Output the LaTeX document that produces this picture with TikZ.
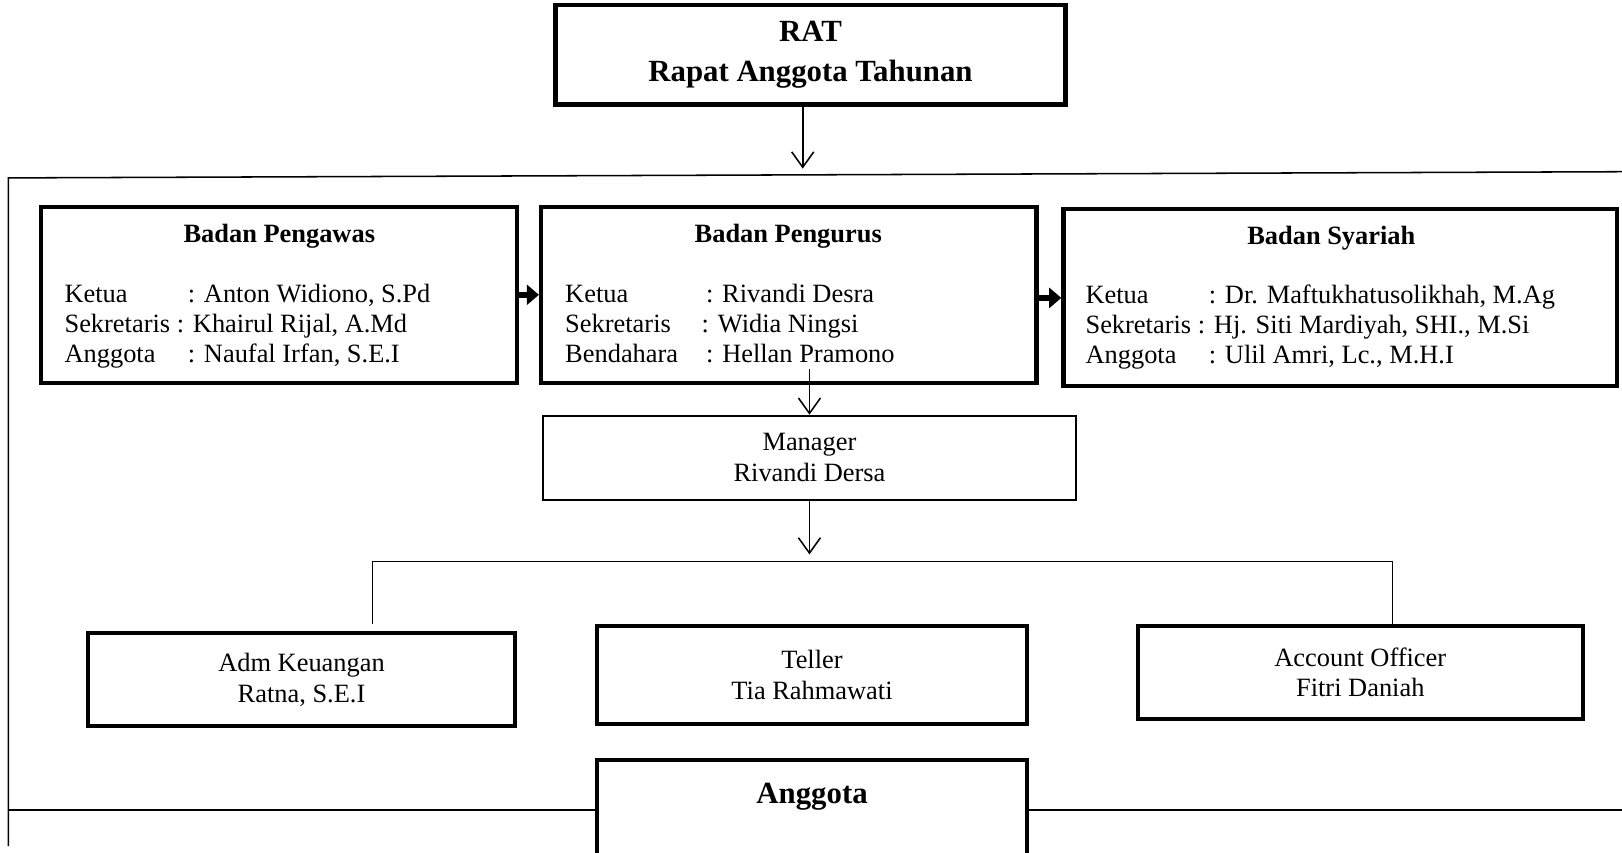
\documentclass[tikz,border=0pt]{standalone}
\usepackage{fontspec}
\setmainfont{Liberation Serif}
\usetikzlibrary{arrows.meta,calc}

\tikzset{
  thickbox/.style 2 args={draw, line width=1.9pt, inner sep=0pt,
    minimum width=#1*0.47pt, minimum height=#2*0.47pt, align=center,
    font=\fontsize{12}{14}\selectfont},
  thinbox/.style 2 args={thickbox={#1}{#2}, line width=1pt},
  openarrow/.style={line width=0.7pt, -{Straight Barb[length=7pt,width=10pt]}},
  blockarrow/.style={line width=3pt, -{Triangle[length=5.5pt,width=9pt]}},
  frameline/.style={line width=0.7pt},
  boxtitle/.style={font=\fontsize{12}{14}\selectfont\bfseries},
  members/.style={anchor=west, inner sep=0pt, font=\fontsize{12}{13.6}\selectfont}
}

\begin{document}
\begin{tikzpicture}[x=0.47pt, y=-0.47pt]
	\useasboundingbox (0,0) rectangle (1568,824);

	% RAT
	\node[thickbox={493}{96}, font=\fontsize{14}{17.8}\selectfont\bfseries] (rat) at (783.5,53) {RAT\\Rapat Anggota Tahunan};

	% frame
	\coordinate (frametl) at (8,172);
	\coordinate (frametr) at (1568,166);
	\coordinate (framebl) at (8,818);
	\coordinate (ratend) at (776,163);
	\draw[frameline] (frametr) -- (frametl) -- (framebl);
	\draw[openarrow] (rat.south -| ratend) -- (ratend);

	% badan boxes
	\node[thickbox={460}{170}] (pengawas) at (270,285) {};
	\node[thickbox={479}{170}] (pengurus) at (762.5,285) {};
	\node[thickbox={535}{171}] (syariah) at (1295.5,287.5) {};

	\node[boxtitle] (pengawas-t) at (270,228) {Badan Pengawas};
	\node[boxtitle] (pengurus-t) at (762,228) {Badan Pengurus};
	\node[boxtitle] (syariah-t) at (1287,230) {Badan Syariah};

	\node[members] (pengawas-m) at (62,316) {\begin{tabular}{@{}l@{}}
		\makebox[56pt][l]{Ketua}: Anton Widiono, S.Pd\\
		Sekretaris : Khairul Rijal, A.Md\\
		\makebox[56pt][l]{Anggota}: Naufal Irfan, S.E.I
	\end{tabular}};
	\node[members] (pengurus-m) at (546,316) {\begin{tabular}{@{}l@{}}
		\makebox[64pt][l]{Ketua}: Rivandi Desra\\
		\makebox[62pt][l]{Sekretaris}: Widia Ningsi\\
		\makebox[64pt][l]{Bendahara}: Hellan Pramono
	\end{tabular}};
	\node[members] (syariah-m) at (1049,317) {\begin{tabular}{@{}l@{}}
		\makebox[56pt][l]{Ketua}: Dr. Maftukhatusolikhah, M.Ag\\
		Sekretaris : Hj. Siti Mardiyah, SHI., M.Si\\
		\makebox[56pt][l]{Anggota}: Ulil Amri, Lc., M.H.I
	\end{tabular}};

	\draw[blockarrow] (pengawas.east) -- (pengurus.west);
	\draw[blockarrow] ($(pengurus.east)+(0,3)$) -- ($(pengurus.east -| syariah.west)+(0,3)$);

	% manager
	\node[thinbox={515}{81}] (manager) at (782.5,442.5) {Manager\\Rivandi Dersa};
	\draw[openarrow] ($(pengurus.south -| manager.north)+(0,-15)$) -- (manager.north);

	\coordinate (mgrend) at (783,536);
	\draw[openarrow] (manager.south) -- (manager.south |- mgrend);

	% staff
	\node[thickbox={413}{90}] (adm) at (291.5,657) {Adm Keuangan\\Ratna, S.E.I};
	\node[thickbox={416}{95}] (teller) at (785,652.5) {Teller\\Tia Rahmawati};
	\node[thickbox={430}{90}] (account) at (1315,650) {Account Officer\\Fitri Daniah};

	\coordinate (brl) at (360,543);
	\coordinate (brr) at (1346,543);
	\draw[frameline] ($(adm.north -| brl)+(0,-7)$) -- (brl) -- (brr) -- (account.north -| brr);

	% anggota
	\node[thickbox={416}{115}] (anggota) at (785,792.5) {};
	\node[font=\fontsize{14}{17}\selectfont\bfseries] (anggota-t) at (785,770) {Anggota};

	\coordinate (botl) at (8,783);
	\coordinate (botr) at (1568,783);
	\draw[frameline] (botl) -- (botl -| anggota.west);
	\draw[frameline] (botl -| anggota.east) -- (botr);

\end{tikzpicture}
\end{document}
